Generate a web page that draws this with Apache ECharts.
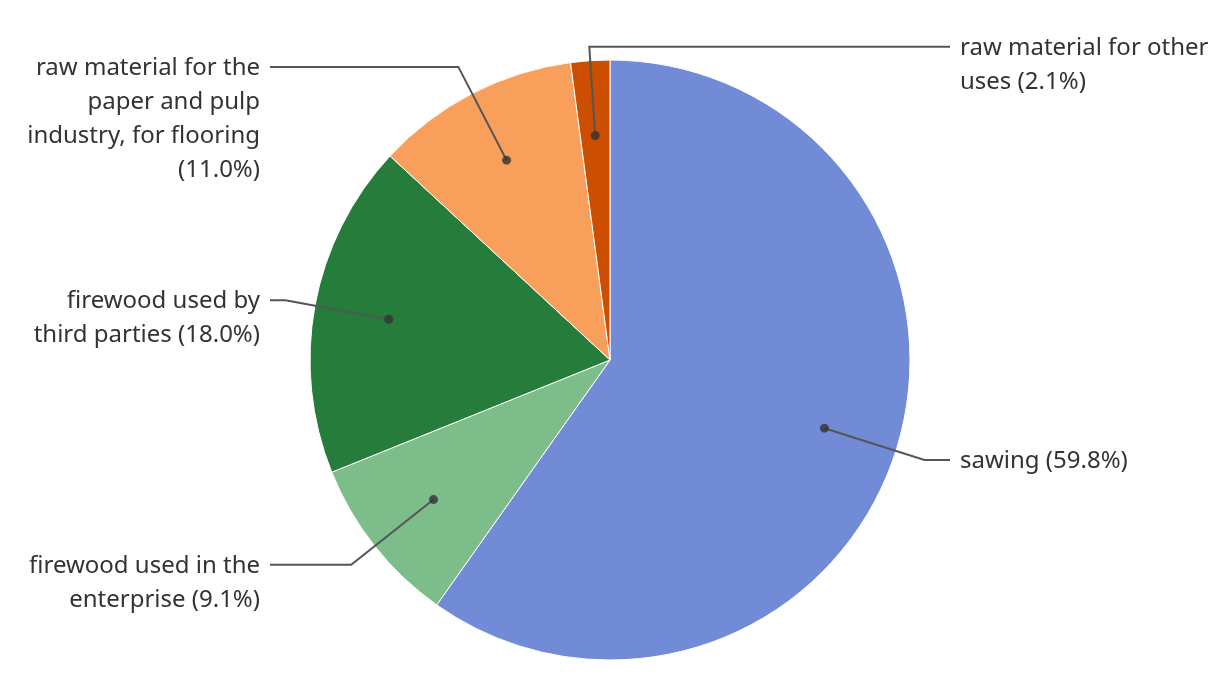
<!DOCTYPE html>
<html>
<head>
<meta charset="utf-8">
<script src="https://cdn.jsdelivr.net/npm/echarts@6/dist/echarts.min.js"></script>
<style>
  html, body { margin: 0; padding: 0; background: #ffffff; }
  #chart { width: 1220px; height: 700px; }
</style>
</head>
<body>
<div id="chart"></div>
<script>
// ---- data ----
const categories = [
  'sawing',
  'firewood used in the enterprise',
  'firewood used by third parties',
  'raw material for the paper and pulp industry, for flooring',
  'raw material for other uses'
];
const shares = [59.8, 9.1, 18.0, 11.0, 2.1];
// label text as wrapped in the picture (a trailing \n puts the percentage on its own line)
const wrappedNames = [
  'sawing',
  'firewood used in the\nenterprise',
  'firewood used by\nthird parties',
  'raw material for the\npaper and pulp\nindustry, for flooring\n',
  'raw material for other\nuses'
];

// ---- styles / layout ----
const colors = ['#728bd6', '#7dbd89', '#267c3b', '#f8a05b', '#cc4e00'];
const CENTER = [610, 360];
const R = 300;          // pie radius
const R_DOT = 225;      // where the leader lines start (dots)
const LINE_LEN = 105;   // radial part of the leader line
const LINE_END = 340;   // horizontal distance from centre to end of leader lines
const TEXT_GAP = 10;
const LINE_H = 34;
const TOP_TOLERANCE = 30;
const lineLenOverride = { 'raw material for other uses': 89 };

const total = shares.reduce((a, b) => a + b, 0);
const mids = [];
let acc = 0;
shares.forEach(v => { mids.push(acc + v / 2); acc += v; });

const chart = echarts.init(document.getElementById('chart'));

const visibleData = categories.map((n, i) => ({
  name: n, value: shares[i], itemStyle: { color: colors[i] }
}));
const labelData = categories.map((n, i) => {
  const d = { name: n, value: shares[i] };
  if (lineLenOverride[n] != null) d.labelLine = { length: lineLenOverride[n] };
  return d;
});

const option = {
  animation: false,
  backgroundColor: '#ffffff',
  polar: { center: CENTER, radius: R_DOT },
  angleAxis: {
    type: 'value', min: 0, max: total, startAngle: 90, clockwise: true, show: false,
    axisLine: { show: false }, axisTick: { show: false }, axisLabel: { show: false }, splitLine: { show: false }
  },
  radiusAxis: {
    type: 'value', min: 0, max: 1, show: false,
    axisLine: { show: false }, axisTick: { show: false }, axisLabel: { show: false }, splitLine: { show: false }
  },
  series: [
    {
      type: 'pie',
      center: CENTER,
      radius: R,
      startAngle: 90,
      clockwise: true,
      silent: true,
      z: 1,
      label: { show: false },
      labelLine: { show: false },
      itemStyle: { borderColor: '#ffffff', borderWidth: 1 },
      emphasis: { disabled: true },
      data: visibleData
    },
    {
      type: 'pie',
      center: CENTER,
      radius: R_DOT,
      startAngle: 90,
      clockwise: true,
      silent: true,
      z: 5,
      avoidLabelOverlap: false,
      itemStyle: { color: 'rgba(0,0,0,0)', borderWidth: 0 },
      emphasis: { disabled: true },
      label: {
        show: true,
        position: 'outside',
        fontFamily: 'Noto Sans',
        fontSize: 24,
        lineHeight: LINE_H,
        color: '#333333',
        formatter: p => {
          const nm = wrappedNames[p.dataIndex];
          return nm + (nm.endsWith('\n') ? '' : ' ') + '(' + p.percent.toFixed(1) + '%)';
        }
      },
      labelLine: {
        show: true,
        length: LINE_LEN,
        length2: 10,
        smooth: false,
        lineStyle: { color: '#555555', width: 2 }
      },
      labelLayout: function (p) {
        const pts = p.labelLinePoints;
        if (!pts) return {};
        const bend = pts[1];
        const toLeft = bend[0] < CENTER[0] - TOP_TOLERANCE;
        const endX = toLeft ? CENTER[0] - LINE_END : CENTER[0] + LINE_END;
        return {
          x: toLeft ? endX - TEXT_GAP : endX + TEXT_GAP,
          y: bend[1] - LINE_H / 2 + 1,
          align: toLeft ? 'right' : 'left',
          verticalAlign: 'top',
          labelLinePoints: [pts[0], bend, [endX, bend[1]]]
        };
      },
      data: labelData
    },
    {
      type: 'scatter',
      coordinateSystem: 'polar',
      silent: true,
      z: 10,
      symbol: 'circle',
      symbolSize: 9,
      itemStyle: { color: '#333333' },
      data: mids.map(m => [1, m])
    }
  ]
};
chart.setOption(option);
</script>
</body>
</html>
